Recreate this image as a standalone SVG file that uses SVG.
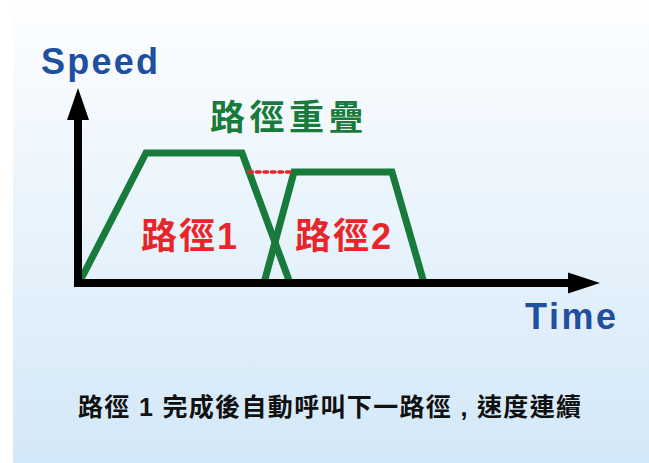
<svg xmlns="http://www.w3.org/2000/svg" width="649" height="463" viewBox="0 0 649 463">
  <defs>
    <linearGradient id="bg" x1="0" y1="0" x2="0" y2="1">
      <stop offset="0" stop-color="#fdfeff"/>
      <stop offset="1" stop-color="#d3e8f8"/>
    </linearGradient>
    <style>
      .axis { fill: none; stroke: #000; stroke-width: 8; stroke-linejoin: miter; }
      .head { fill: #000; }
      .path { fill: none; stroke: #187b3b; stroke-width: 7; stroke-linejoin: miter; }
      .overlap { fill: none; stroke: #e8262a; stroke-width: 3.5; stroke-dasharray: 3.5 4; stroke-linecap: round; }
      .axislabel { font-family: "Liberation Sans", Arial, sans-serif; font-weight: bold; font-size: 36px; fill: #1f4f9f; }
      .green { font-family: "Noto Sans CJK TC", "Noto Sans CJK SC", sans-serif; font-weight: bold; font-size: 35px; fill: #187b3b; }
      .red { font-family: "Liberation Sans", "Noto Sans CJK TC", sans-serif; font-weight: bold; font-size: 36px; fill: #e8262a; }
      .caption { font-family: "Liberation Sans", "Noto Sans CJK TC", sans-serif; font-weight: bold; font-size: 25px; fill: #111; }
    </style>
  </defs>
  <rect x="0" y="0" width="649" height="463" fill="#ffffff"/>
  <rect x="13" y="0" width="636" height="463" fill="url(#bg)"/>

  <g id="connectors">
    <path id="path1" class="path" d="M79,283 L146,153 L242,153 L290,283"/>
    <path id="path2" class="path" d="M264,283 L294,172 L392,172 L424,283"/>
    <line id="overlap-line" class="overlap" x1="249" y1="172" x2="291" y2="172"/>
    <path id="axes" class="axis" d="M78,118 V283 H570"/>
    <polygon class="head" points="78,88 67,120 89,120"/>
    <polygon class="head" points="600,283 568,272.5 568,293.5"/>
  </g>

  <g id="speed-label">
    <text class="axislabel" x="41" y="74" textLength="117" lengthAdjust="spacing">Speed</text>
  </g>
  <g id="time-label">
    <text class="axislabel" x="525" y="329" textLength="91" lengthAdjust="spacing">Time</text>
  </g>
  <g id="overlap-label">
    <text class="green" x="210" y="130" letter-spacing="4.5">路徑重疊</text>
  </g>
  <g id="path1-label">
    <text class="red" x="141" y="248.5" letter-spacing="2">路徑1</text>
  </g>
  <g id="path2-label">
    <text class="red" x="295" y="248.5" letter-spacing="2">路徑2</text>
  </g>
  <g id="caption">
    <text class="caption" x="78" y="416" textLength="503" lengthAdjust="spacing">路徑 1 完成後自動呼叫下一路徑 , 速度連續</text>
  </g>
</svg>
